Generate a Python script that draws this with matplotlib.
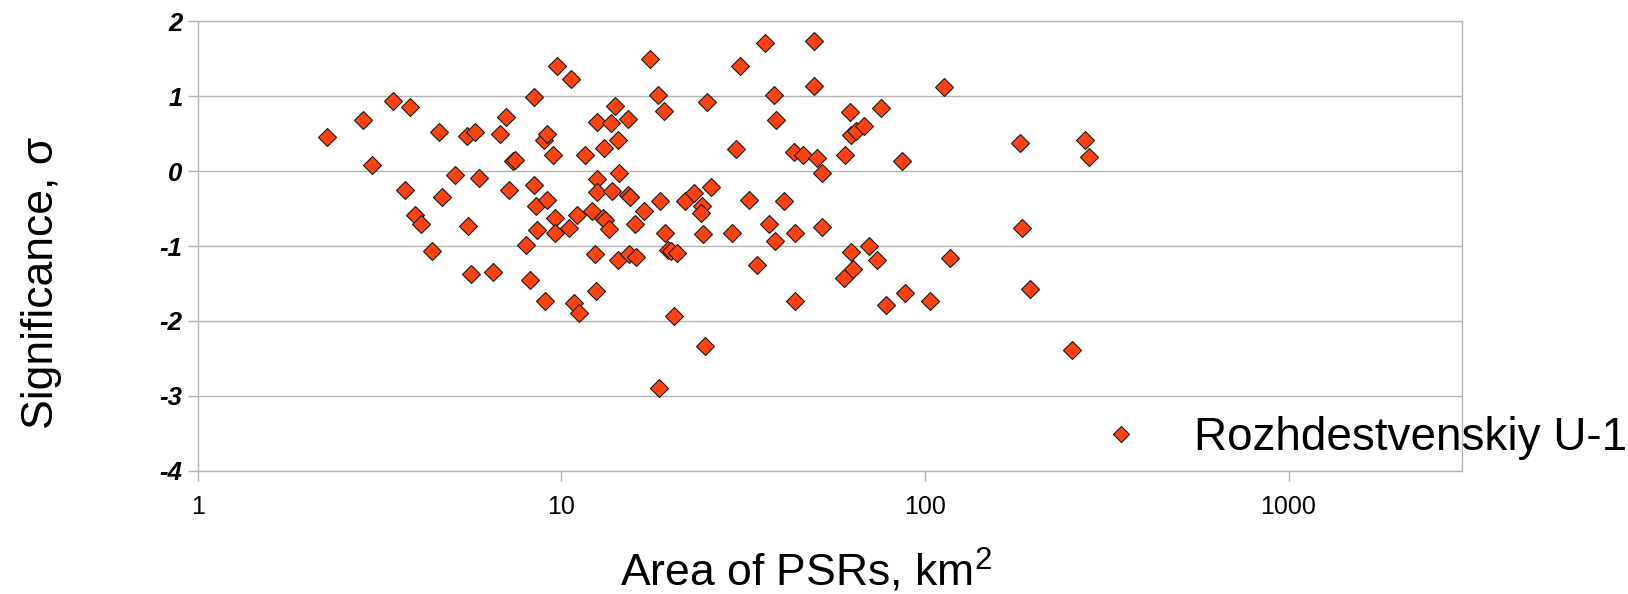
import matplotlib
matplotlib.use("Agg")
import matplotlib.pyplot as plt
from matplotlib.ticker import FixedLocator, FixedFormatter, NullLocator

plt.rcParams['font.family'] = ['Liberation Sans', 'DejaVu Sans']
plt.rcParams['mathtext.fontset'] = 'custom'
plt.rcParams['mathtext.rm'] = 'Liberation Sans'

# ── data ─────────────────────────────────────────────────────────────────────
area_km2 = [
    2.27, 2.85, 3.02, 3.43, 3.83, 3.70, 3.96, 4.12, 4.60, 4.70,
    4.41, 5.09, 5.53, 5.51, 5.77, 5.92, 5.62, 6.49, 6.76, 7.05,
    7.17, 7.35, 7.46, 7.98, 8.18, 8.40, 8.40, 8.52, 8.55, 9.13,
    8.98, 9.13, 9.02, 9.47, 9.59, 9.57, 9.75, 10.5, 10.59, 10.83,
    11.2, 11.0, 11.64, 12.14, 12.35, 12.45, 12.53, 12.53, 12.53, 13.0,
    13.18, 13.1, 13.49, 13.71, 13.74, 14.28, 14.04, 14.28, 14.39, 15.38,
    16.03, 15.24, 15.4, 15.28, 15.93, 16.87, 17.56, 18.48, 19.19, 18.71,
    19.26, 19.6, 19.95, 20.8, 20.4, 18.6, 21.8, 23.1, 24.4, 24.2,
    24.8, 24.5, 25.2, 25.8, 29.4, 30.3, 30.9, 32.9, 34.4, 36.2,
    37.2, 38.4, 38.7, 38.9, 40.9, 43.6, 46.2, 43.9, 43.8, 49.6,
    49.6, 50.6, 52.0, 52.1, 60.3, 59.9, 63.4, 62.2, 62.5, 62.5,
    64.5, 68.0, 70.3, 73.9, 75.8, 78.2, 86.5, 88.2, 103.0, 112.8,
    116.9, 182, 185, 195, 254, 275, 283,
]
significance = [
    0.46, 0.68, 0.08, 0.94, 0.86, -0.25, -0.58, -0.71, 0.52, -0.35,
    -1.07, -0.05, -0.73, 0.47, 0.52, -0.09, -1.37, -1.35, 0.49, 0.72,
    -0.25, 0.13, 0.15, -0.98, -1.45, 0.99, -0.19, -0.46, -0.78, -0.39,
    0.41, 0.49, -1.73, 0.22, -0.63, -0.82, 1.40, -0.76, 1.23, -1.76,
    -1.89, -0.58, 0.22, -0.53, -1.10, -1.60, 0.66, -0.11, -0.28, -0.62,
    -0.65, 0.31, -0.77, 0.64, -0.27, -1.19, 0.87, 0.42, -0.02, -1.11,
    -1.15, -0.32, -0.34, 0.69, -0.71, -0.53, 1.50, 1.02, 0.80, -0.40,
    -0.83, -1.05, -1.06, -1.09, -1.94, -2.89, -0.40, -0.29, -0.47, -0.56,
    -2.34, -0.84, 0.92, -0.21, -0.83, 0.29, 1.40, -0.38, -1.25, 1.71,
    -0.71, 1.01, -0.93, 0.68, -0.40, 0.26, 0.22, -0.82, -1.74, 1.74,
    1.14, 0.18, -0.02, -0.75, 0.22, -1.42, -1.31, 0.79, -1.08, 0.48,
    0.54, 0.60, -1.00, -1.19, 0.84, -1.79, 0.14, -1.63, -1.74, 1.12,
    -1.16, 0.38, -0.76, -1.57, -2.39, 0.41, 0.19,
]
series_name = "Rozhdestvenskiy U-1"
x_ticks = [1, 10, 100, 1000]
x_ticklabels = ["1", "10", "100", "1000"]
y_ticks = [-4, -3, -2, -1, 0, 1, 2]

GRID = "#b3b3b3"

fig = plt.figure(figsize=(16.28, 5.94), dpi=100)
ax = fig.add_axes([0.1216, 0.2071, 0.898 - 0.1216, 0.9646 - 0.2071])

ax.plot(area_km2, significance, linestyle="none", marker="D", markersize=9.2,
        markerfacecolor="#ff420e", markeredgecolor="#1a1a1a",
        markeredgewidth=0.8, label=series_name, zorder=3)

ax.set_xscale("log")
ax.set_xlim(1, 3000)
ax.set_ylim(-4, 2)
ax.xaxis.set_major_locator(FixedLocator(x_ticks))
ax.xaxis.set_major_formatter(FixedFormatter(x_ticklabels))
ax.xaxis.set_minor_locator(NullLocator())
ax.set_yticks(y_ticks)
ax.set_yticklabels([str(v) for v in y_ticks])

for lbl in ax.get_yticklabels():
    lbl.set_fontsize(18.5)
    lbl.set_fontweight("bold")
    lbl.set_fontstyle("italic")
for lbl in ax.get_xticklabels():
    lbl.set_fontsize(18)

ax.tick_params(axis="both", direction="out", color=GRID, length=7, width=1)
ax.tick_params(axis="y", pad=4)
ax.tick_params(axis="x", pad=10)
ax.grid(True, axis="y", color=GRID, linewidth=1)
for s in ax.spines.values():
    s.set_color(GRID)
    s.set_linewidth(1)

fig.text(806 / 1628, 8 / 594, "Area of PSRs, km$^2$", fontsize=32,
         ha="center", va="baseline")
fig.text(42 / 1628, 1 - 283 / 594, "Significance, σ", fontsize=32,
         rotation=90, ha="center", va="center")

ax.legend(loc="center left", bbox_to_anchor=(1098 / 1628, 1 - 438 / 594),
          bbox_transform=fig.transFigure, frameon=False, fontsize=33,
          handlelength=1.0, handletextpad=1.1, borderpad=0, borderaxespad=0,
          markerscale=0.9)

fig.savefig("out.png", dpi=100)
